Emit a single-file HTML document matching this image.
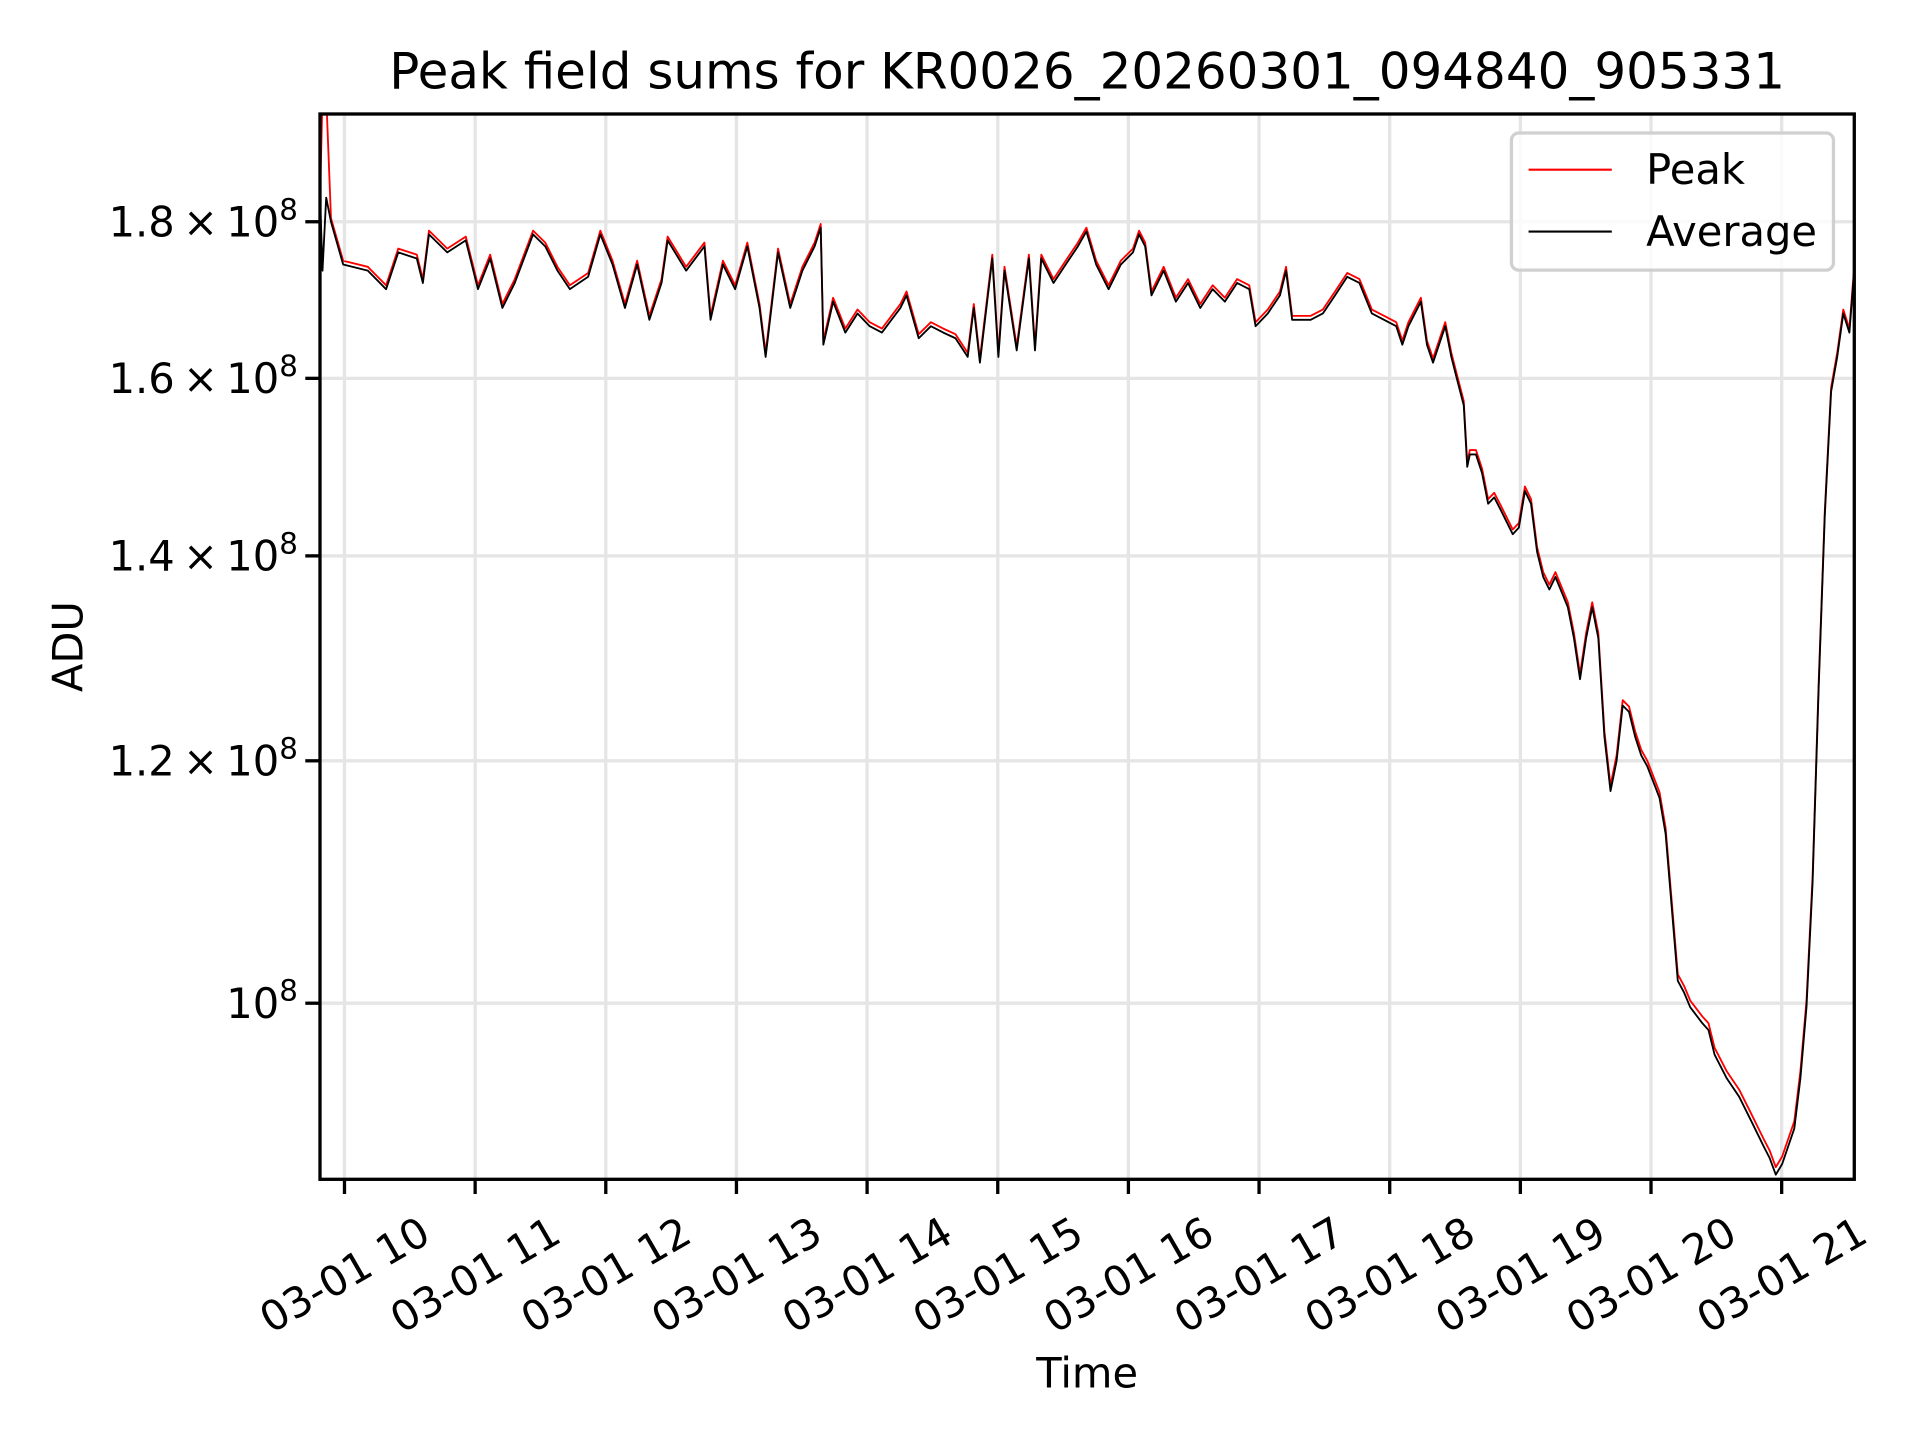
<!DOCTYPE html>
<html><head><meta charset="utf-8"><style>
html,body{margin:0;padding:0;background:#fff;}
svg{display:block;font-family:"DejaVu Sans","Liberation Sans",sans-serif;}
</style></head><body>
<svg id="chart" width="1920" height="1440" viewBox="-0.33 -1.1 1568 1176" xmlns="http://www.w3.org/2000/svg">
<rect x="-1" y="-2" width="1572" height="1180" fill="#fff"/>
<defs><clipPath id="plotclip"><rect x="261" y="92" width="1253" height="870"/></clipPath></defs>
<g id="grid"></g>
<g id="series" clip-path="url(#plotclip)"></g>
<rect x="261" y="92" width="1253" height="870" fill="none" stroke="#000" stroke-width="2.7"/>
<g id="ticks"></g>
<text x="887.5" y="71" font-size="40.8" text-anchor="middle">Peak field sums for KR0026_20260301_094840_905331</text>
<text x="887.5" y="1132" font-size="34" text-anchor="middle">Time</text>
<text x="0" y="0" font-size="34" text-anchor="middle" transform="translate(67,527) rotate(-90)">ADU</text>
<g>
<rect x="1234" y="107.5" width="263" height="112" rx="6" fill="#fff" fill-opacity="0.8" stroke="#d0d0d0" stroke-width="2.7"/>
<line x1="1248" y1="137.5" x2="1316" y2="137.5" stroke="#ff0000" stroke-width="1.7"/>
<text x="1344" y="149" font-size="34">Peak</text>
<line x1="1248" y1="188" x2="1316" y2="188" stroke="#000" stroke-width="1.7"/>
<text x="1344" y="200" font-size="34">Average</text>
</g>
</svg>
<script>
// minutes after 03-01 10:00
const times = [-11.2,-10.1,-8.4,-6.2,-0.6,10.7,19.1,24.7,33.2,36.0,38.8,47.2,55.7,61.3,66.9,72.5,78.2,86.6,92.2,97.8,103.5,111.9,117.5,123.1,128.8,134.4,140.0,145.6,148.4,156.9,165.3,168.1,173.8,179.4,185.0,190.6,193.4,199.1,204.7,210.3,215.9,218.7,219.9,224.4,230.0,235.6,241.2,246.8,255.3,258.1,263.7,269.3,275.0,280.6,286.2,289.0,291.8,297.5,300.3,303.1,308.7,314.3,317.1,320.0,325.6,331.2,336.8,340.7,345.2,350.9,356.5,362.1,364.9,367.7,370.6,376.2,381.8,387.4,393.0,398.7,404.3,409.9,415.5,418.4,424.0,429.6,432.4,435.2,443.7,449.3,454.9,460.5,466.1,471.8,477.4,483.0,485.8,488.6,494.3,497.1,499.9,505.5,508.3,511.1,514.0,515.6,516.8,519.6,522.4,525.2,528.0,530.8,536.5,539.3,542.1,544.9,547.7,550.5,553.3,556.1,561.8,564.6,567.4,570.2,573.0,575.8,578.6,581.4,584.2,587.0,589.9,592.7,595.5,598.3,603.9,606.7,609.5,612.3,615.2,618.0,623.6,626.4,629.2,634.8,640.5,646.1,651.7,654.5,657.3,660.2,665.8,668.6,671.4,674.2,677.0,679.8,682.7,685.5,688.3,691.1,693.3];
// values in units of 1e8 ADU
const averageValues = [1.833,1.735,1.833,1.8,1.743,1.735,1.711,1.759,1.751,1.719,1.783,1.759,1.775,1.711,1.751,1.687,1.719,1.783,1.767,1.735,1.711,1.727,1.783,1.743,1.687,1.743,1.672,1.719,1.775,1.735,1.767,1.672,1.743,1.711,1.767,1.687,1.626,1.759,1.687,1.735,1.767,1.792,1.641,1.695,1.656,1.680,1.664,1.656,1.687,1.703,1.649,1.664,1.656,1.649,1.626,1.687,1.619,1.751,1.626,1.735,1.634,1.751,1.634,1.751,1.719,1.743,1.767,1.787,1.743,1.711,1.743,1.759,1.783,1.767,1.703,1.735,1.695,1.719,1.687,1.711,1.695,1.719,1.711,1.664,1.680,1.703,1.735,1.672,1.672,1.680,1.703,1.727,1.719,1.680,1.672,1.664,1.641,1.664,1.695,1.641,1.619,1.664,1.626,1.597,1.568,1.497,1.511,1.511,1.490,1.456,1.463,1.450,1.423,1.430,1.470,1.456,1.404,1.378,1.365,1.378,1.347,1.316,1.276,1.316,1.347,1.316,1.222,1.173,1.200,1.251,1.245,1.222,1.205,1.195,1.167,1.136,1.075,1.017,1.008,0.997,0.985,0.980,0.962,0.945,0.932,0.915,0.898,0.890,0.879,0.886,0.910,0.945,0.997,1.095,1.268,1.443,1.584,1.626,1.680,1.656,1.735];
const peakValues = [1.833,1.98,1.98,1.805,1.748,1.740,1.716,1.764,1.756,1.724,1.788,1.764,1.780,1.716,1.756,1.692,1.724,1.788,1.772,1.740,1.716,1.732,1.788,1.748,1.692,1.748,1.677,1.724,1.780,1.740,1.772,1.677,1.748,1.716,1.772,1.692,1.631,1.764,1.692,1.740,1.772,1.797,1.646,1.700,1.661,1.685,1.669,1.661,1.692,1.708,1.654,1.669,1.661,1.654,1.631,1.692,1.624,1.756,1.631,1.740,1.639,1.756,1.639,1.756,1.724,1.748,1.772,1.792,1.748,1.716,1.748,1.764,1.788,1.772,1.708,1.740,1.700,1.724,1.692,1.716,1.700,1.724,1.716,1.669,1.685,1.708,1.740,1.677,1.677,1.685,1.708,1.732,1.724,1.685,1.677,1.669,1.646,1.669,1.700,1.646,1.624,1.669,1.631,1.602,1.573,1.502,1.516,1.516,1.495,1.461,1.468,1.455,1.428,1.435,1.475,1.461,1.409,1.383,1.370,1.383,1.352,1.321,1.281,1.321,1.352,1.321,1.227,1.178,1.205,1.256,1.250,1.227,1.210,1.200,1.172,1.141,1.080,1.022,1.013,1.002,0.990,0.985,0.967,0.950,0.937,0.920,0.903,0.895,0.884,0.891,0.915,0.950,1.002,1.100,1.273,1.448,1.589,1.631,1.685,1.661,1.740];
const xTickHours = [10,11,12,13,14,15,16,17,18,19,20,21];
const xTickLabels = ["03-01 10","03-01 11","03-01 12","03-01 13","03-01 14","03-01 15","03-01 16","03-01 17","03-01 18","03-01 19","03-01 20","03-01 21"];
const yTickValues = [1.0,1.2,1.4,1.6,1.8];
const yTickMantissa = ["","1.2","1.4","1.6","1.8"];

const NS = "http://www.w3.org/2000/svg";
function xScale(minutes){ return 281 + minutes * 106.7 / 60; }
function yScale(v){ return 180 - 2500 * Math.log10(v / 1.8); }
function mk(tag, attrs, parent){ const e = document.createElementNS(NS, tag); for (const k in attrs) e.setAttribute(k, attrs[k]); parent.appendChild(e); return e; }

const grid = document.getElementById('grid');
const ticks = document.getElementById('ticks');
const series = document.getElementById('series');

xTickHours.forEach((h, i) => {
  const x = xScale((h - 10) * 60);
  const gl = mk('line', {x1:x, y1:92, x2:x, y2:962, stroke:'#e5e5e5', 'stroke-width':2.7}, grid);
  
  
  const tl = mk('line', {x1:x, y1:962, x2:x, y2:974, stroke:'#000', 'stroke-width':2.7}, ticks);
  
  
  const t = mk('text', {x:0, y:0, 'font-size':34, 'text-anchor':'middle', 'dominant-baseline':'central', transform:'translate(' + x + ',1040) rotate(-30)'}, ticks);
  t.textContent = xTickLabels[i];
  
  
});

yTickValues.forEach((v, i) => {
  const y = yScale(v);
  const gl = mk('line', {x1:261, y1:y, x2:1514, y2:y, stroke:'#e5e5e5', 'stroke-width':2.7}, grid);
  
  
  const tl = mk('line', {x1:249, y1:y, x2:261, y2:y, stroke:'#000', 'stroke-width':2.7}, ticks);
  
  
  const t = mk('text', {x:243, y:y + 12, 'font-size':34, 'text-anchor':'end'}, ticks);
  
  
  const pre = yTickMantissa[i] ? yTickMantissa[i] + '\u2009\u00d7\u200910' : '10';
  const a = document.createElementNS(NS, 'tspan'); a.textContent = pre; t.appendChild(a);
  const b = document.createElementNS(NS, 'tspan'); b.setAttribute('dy', '-14'); b.setAttribute('font-size', '24'); b.textContent = '8'; t.appendChild(b);
});

function drawLine(vals, color, name){
  let d = '';
  times.forEach((t, i) => { d += (i ? 'L' : 'M') + xScale(t).toFixed(2) + ',' + yScale(vals[i]).toFixed(2); });
  const p = mk('path', {d:d, fill:'none', stroke:color, 'stroke-width':1.5, 'stroke-linejoin':'round'}, series);
  
  
}
drawLine(peakValues, '#ff0000', 'peak-line');
drawLine(averageValues, '#000000', 'average-line');
</script>
</body></html>
